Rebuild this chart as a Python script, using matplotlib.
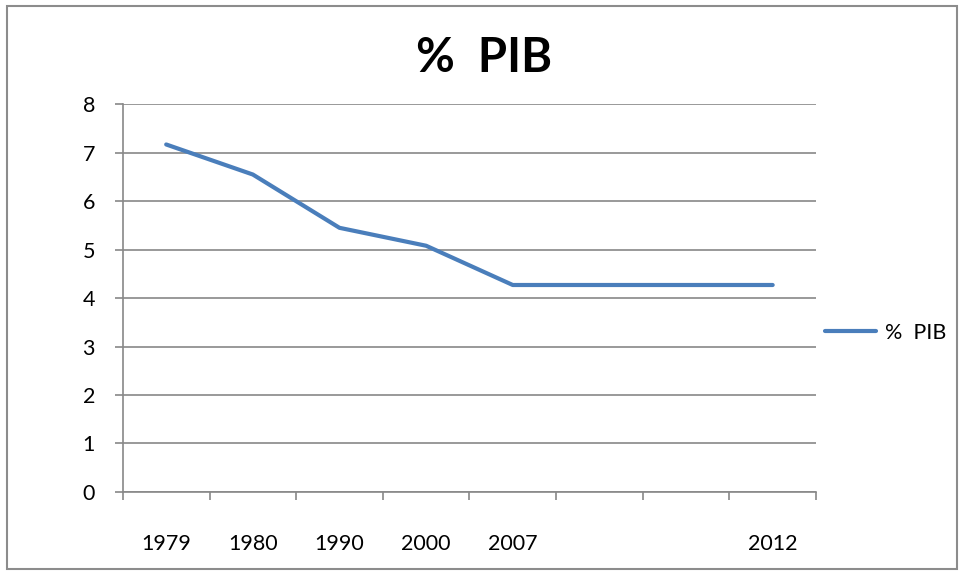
import matplotlib.pyplot as plt
import numpy as np

plt.rcParams['font.family'] = ['Lato', 'DejaVu Sans']

# --- DATOS ---
anios = ["1979", "1980", "1990", "2000", "2007", "", "", "2012"]
pib = [7.17, 6.55, 5.45, 5.08, 4.27, 4.27, 4.27, 4.27]
serie = "%  PIB"

fig = plt.figure(figsize=(9.6, 5.76), dpi=100)
ax = fig.add_axes([0.128, 0.146, 0.722, 0.673])

# marco exterior del grafico
fig.patches.append(plt.Rectangle((0.007, 0.012), 0.99, 0.977, transform=fig.transFigure,
                                 fill=False, edgecolor='#8c8c8c', linewidth=1.5))

x = np.arange(len(anios))
ax.plot(x, pib, color='#4a7ebb', linewidth=3, solid_capstyle='round', label=serie)

ax.set_xlim(-0.5, len(anios) - 0.5)
ax.set_ylim(0, 8)
ax.set_yticks(range(0, 9))
ax.grid(axis='y', color='#888888', linewidth=1.2)
ax.set_axisbelow(True)

# ticks de categorias entre etiquetas
ax.set_xticks(np.arange(len(anios) + 1) - 0.5)
ax.set_xticklabels([])
ax.set_xticks(x, minor=True)
ax.set_xticklabels(anios, minor=True)
ax.tick_params(axis='x', which='minor', length=0, pad=30, labelsize=15.5)
ax.tick_params(axis='x', which='major', length=6, width=1.2, color='#888888')
ax.tick_params(axis='y', length=6, width=1.2, color='#888888', labelsize=15.5, pad=14)

for s in ['top', 'right']:
    ax.spines[s].set_visible(False)
for s in ['left', 'bottom']:
    ax.spines[s].set_color('#888888')
    ax.spines[s].set_linewidth(1.2)

# titulo centrado en la figura
fig.text(0.504, 0.9, "%  PIB", fontsize=34, fontweight='bold', ha='center', va='center')

ax.legend(loc='center left', bbox_to_anchor=(1.0, 0.41), frameon=False, fontsize=15.5,
          handlelength=2.4, handletextpad=0.4, borderaxespad=0)

fig.savefig("out.png", dpi=100)
